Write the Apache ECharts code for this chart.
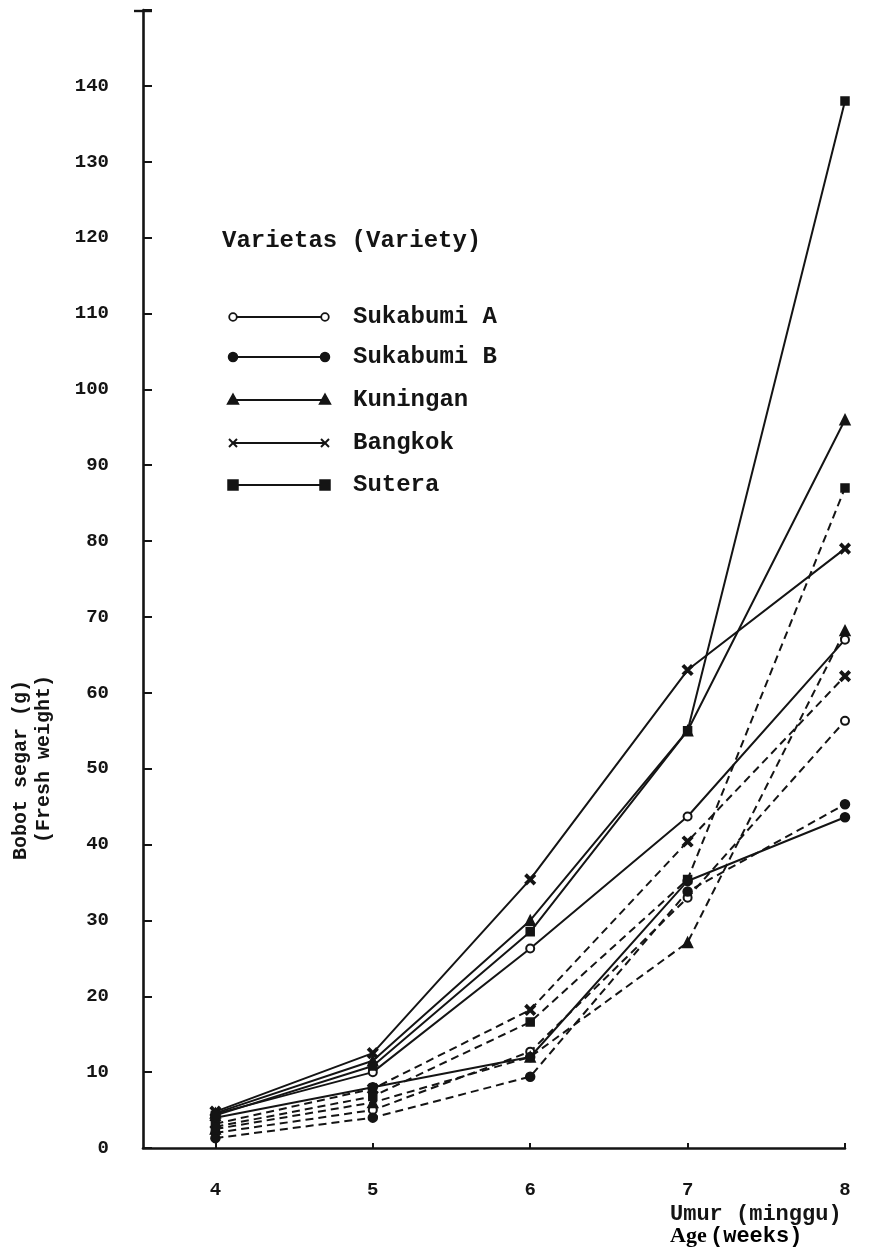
<!DOCTYPE html>
<html>
<head>
<meta charset="utf-8">
<script src="https://cdn.jsdelivr.net/npm/echarts@6/dist/echarts.min.js"></script>
<style>
  html, body { margin: 0; padding: 0; background: #fff; }
  #chartId { width: 893px; height: 1250px; }
</style>
</head>
<body>
<div id="chartId"></div>
<script>
// umur (minggu) / age (weeks)
const weeks = [4, 5, 6, 7, 8]
const yMax = 150
const varieties = ['Sukabumi A', 'Sukabumi B', 'Kuningan', 'Bangkok', 'Sutera']

// solid lines
const solidSukabumiA = [4.5, 10.0, 26.3, 43.7, 67.0]
const solidSukabumiB = [4.0, 8.0, 12.0, 35.2, 43.6]
const solidKuningan = [4.6, 11.5, 30.0, 55.0, 96.0]
const solidBangkok = [4.8, 12.5, 35.4, 63.0, 79.0]
const solidSutera = [4.3, 10.8, 28.5, 55.0, 138.0]

// dashed lines
const dashSukabumiA = [2.0, 5.0, 12.7, 33.0, 56.3]
const dashSukabumiB = [1.3, 4.0, 9.4, 33.8, 45.3]
const dashKuningan = [2.5, 6.0, 12.0, 27.1, 68.2]
const dashBangkok = [3.2, 7.8, 18.2, 40.4, 62.2]
const dashSutera = [2.8, 6.8, 16.6, 35.4, 87.0]

const ink = '#141414'
const mono = '"Liberation Mono", "DejaVu Sans Mono", monospace'
const crossPath = 'path://M0,1.6 L1.6,0 L5,3.4 L8.4,0 L10,1.6 L6.6,5 L10,8.4 L8.4,10 L5,6.6 L1.6,10 L0,8.4 L3.4,5 Z'
const symbols = ['emptyCircle', 'circle', 'triangle', crossPath, 'rect']
const symbolSizes = [8, 9, 10, 10, 8]

function makeSeries(name, values, idx, dashed) {
  return {
    name: name + (dashed ? ' (2)' : ''),
    type: 'line',
    data: weeks.map((w, i) => [w, values[i]]),
    symbol: symbols[idx],
    symbolSize: symbolSizes[idx],
    showSymbol: true,
    itemStyle: { color: ink, borderColor: ink, borderWidth: 1.5 },
    lineStyle: { color: ink, width: 2, type: dashed ? [8, 5] : 'solid' },
    animation: false,
    z: dashed ? 2 : 3
  }
}

const solidSets = [solidSukabumiA, solidSukabumiB, solidKuningan, solidBangkok, solidSutera]
const dashSets = [dashSukabumiA, dashSukabumiB, dashKuningan, dashBangkok, dashSutera]

// legend drawn by hand: marker at both ends of the line
const legendRows = [317, 357, 400, 443, 485]
function legendMarker(kind, x, y) {
  const st = { fill: ink, stroke: ink, lineWidth: 1.5 }
  if (kind === 0) return { type: 'circle', shape: { cx: x, cy: y, r: 3.8 }, style: { fill: '#fff', stroke: ink, lineWidth: 1.8 } }
  if (kind === 1) return { type: 'circle', shape: { cx: x, cy: y, r: 4.5 }, style: st }
  if (kind === 2) return { type: 'polygon', shape: { points: [[x, y - 6], [x + 5.5, y + 4], [x - 5.5, y + 4]] }, style: st }
  if (kind === 3) return { type: 'group', children: [
    { type: 'line', shape: { x1: x - 4, y1: y - 4, x2: x + 4, y2: y + 4 }, style: { stroke: ink, lineWidth: 2 } },
    { type: 'line', shape: { x1: x + 4, y1: y - 4, x2: x - 4, y2: y + 4 }, style: { stroke: ink, lineWidth: 2 } }
  ] }
  return { type: 'rect', shape: { x: x - 5, y: y - 5, width: 10, height: 10 }, style: st }
}
const legendGraphics = []
varieties.forEach((v, i) => {
  const y = legendRows[i]
  legendGraphics.push({ type: 'line', shape: { x1: 233, y1: y, x2: 325, y2: y }, style: { stroke: ink, lineWidth: 1.8 } })
  legendGraphics.push(legendMarker(i, 233, y))
  legendGraphics.push(legendMarker(i, 325, y))
  legendGraphics.push({ type: 'text', x: 353, y: y, style: { text: v, font: 'bold 24px ' + mono, fill: ink, verticalAlign: 'middle' } })
})

const chart = echarts.init(document.getElementById('chartId'))
chart.setOption({
  backgroundColor: '#fff',
  animation: false,
  grid: { left: 143, right: 48, top: 10, bottom: 102, containLabel: false },
  xAxis: {
    type: 'value',
    min: 3.54,
    max: 8,
    axisLine: { show: true, lineStyle: { color: ink, width: 2.6 } },
    axisTick: { show: true, inside: true, length: 5, customValues: weeks, lineStyle: { color: ink, width: 2 } },
    axisLabel: { customValues: weeks, margin: 33, color: ink, fontFamily: mono, fontWeight: 'bold', fontSize: 19 },
    splitLine: { show: false }
  },
  yAxis: {
    type: 'value',
    min: 0,
    max: yMax,
    interval: 10,
    axisLine: { show: true, lineStyle: { color: ink, width: 2.6 } },
    axisTick: { show: true, inside: true, length: 9, lineStyle: { color: ink, width: 2 } },
    axisLabel: {
      margin: 34,
      color: ink,
      fontFamily: mono,
      fontWeight: 'bold',
      fontSize: 19,
      formatter: v => (v >= yMax ? '' : String(v))
    },
    splitLine: { show: false }
  },
  graphic: [
    // cap on top of the y axis
    { type: 'line', shape: { x1: 134, y1: 11, x2: 152, y2: 11 }, style: { stroke: ink, lineWidth: 2.4 } },
    {
      type: 'text', x: 222, y: 241,
      style: { text: 'Varietas (Variety)', font: 'bold 24px ' + mono, fill: ink, verticalAlign: 'middle' }
    },
    ...legendGraphics,
    {
      type: 'text', x: 21, y: 860, rotation: Math.PI / 2,
      style: { text: 'Bobot segar (g)', font: 'bold 20px ' + mono, fill: ink, align: 'left', verticalAlign: 'middle' }
    },
    {
      type: 'text', x: 44, y: 843, rotation: Math.PI / 2,
      style: { text: '(Fresh weight)', font: 'bold 20px ' + mono, fill: ink, align: 'left', verticalAlign: 'middle' }
    },
    {
      type: 'text', x: 670, y: 1214,
      style: { text: 'Umur (minggu)', font: 'bold 22px ' + mono, fill: ink, verticalAlign: 'middle' }
    },
    {
      type: 'text', x: 670, y: 1236,
      style: {
        text: '{a|Age} {b|(weeks)}',
        verticalAlign: 'middle',
        rich: {
          a: { fontFamily: '"Liberation Serif", serif', fontWeight: 'bold', fontSize: 22, color: ink },
          b: { fontFamily: mono, fontWeight: 'bold', fontSize: 22, color: ink }
        }
      }
    }
  ],
  series: [
    ...dashSets.map((d, i) => makeSeries(varieties[i], d, i, true)),
    ...solidSets.map((d, i) => makeSeries(varieties[i], d, i, false))
  ]
})
</script>
</body>
</html>
